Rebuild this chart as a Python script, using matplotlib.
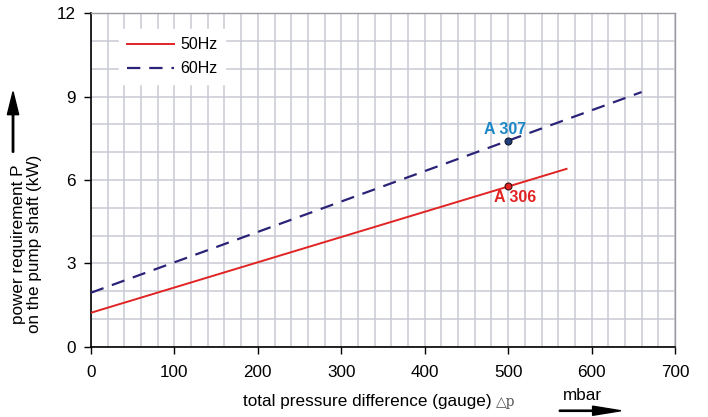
import numpy as np
import matplotlib.pyplot as plt
from matplotlib.patches import FancyArrow

plt.rcParams['font.family'] = ['Liberation Sans', 'DejaVu Sans']

# curve end points (pressure in mbar, power in kW)
p_50 = [0, 570]
P_50 = [1.23, 6.40]
p_60 = [0, 660]
P_60 = [1.95, 9.16]

# operating points
pts_p = [500, 500]
pts_P = [5.78, 7.41]
pts_name = ['A 306', 'A 307']

fig = plt.figure(figsize=(7.08, 4.17), dpi=100)
ax = fig.add_axes([0.1285, 0.1679, 0.8249, 0.8009])

red = '#e02424'
navy = '#2b2377'

ax.plot(p_50, P_50, color=red, lw=1.4, label='50Hz', zorder=3)
ax.plot(p_60, P_60, color=navy, lw=1.6, dashes=(6, 4), label='60Hz', zorder=3)

ax.plot(pts_p[0], pts_P[0], 'o', ms=5, mfc=red, mec='#3a1010', mew=0.8, zorder=4)
ax.plot(pts_p[1], pts_P[1], 'o', ms=5, mfc='#1f3f78', mec='#101830', mew=0.8, zorder=4)
ax.text(pts_p[0] + 8, pts_P[0] - 0.42, pts_name[0], color=red, fontsize=11.5,
        fontweight='bold', ha='center', va='center')
ax.text(pts_p[1] - 4, pts_P[1] + 0.42, pts_name[1], color='#1b86c6', fontsize=11.5,
        fontweight='bold', ha='center', va='center')

ax.set_xlim(0, 700)
ax.set_ylim(0, 12)
ax.set_xticks(np.arange(0, 701, 100))
ax.set_yticks(np.arange(0, 13, 3))
ax.set_xticks(np.arange(0, 701, 20), minor=True)
ax.set_yticks(np.arange(0, 13, 1), minor=True)
ax.grid(which='both', color='#c9c9d3', lw=1.1, zorder=0)
ax.tick_params(which='minor', length=0)
ax.tick_params(which='major', labelsize=12.3, length=5, width=1, color='black', pad=6)
ax.tick_params(axis='x', pad=8)

for s in ['top', 'right']:
    ax.spines[s].set_color('#9a9aa2')
    ax.spines[s].set_linewidth(1.0)
for s in ['left', 'bottom']:
    ax.spines[s].set_linewidth(1.2)

leg = ax.legend(loc='upper left', bbox_to_anchor=(0.035, 0.975), frameon=True,
                fontsize=11.5, handlelength=2.9, borderpad=0.5, labelspacing=0.55,
                handletextpad=0.4)
leg.get_frame().set_edgecolor('white')
leg.get_frame().set_facecolor('white')
leg.get_frame().set_alpha(1)
leg.get_frame().set_boxstyle('square', pad=0)

# axis labels with arrows
fig.text(0.037, 0.415, 'power requirement P\non the pump shaft (kW)', rotation=90,
         ha='center', va='center', fontsize=12.3, linespacing=1.1)
fig.add_artist(FancyArrow(
    0.0184, 0.635, 0, 0.145, width=0.002, head_width=0.016, head_length=0.055,
    length_includes_head=True, color='black', transform=fig.transFigure))

fig.text(0.343, 0.038, 'total pressure difference (gauge)', fontsize=12.3,
         ha='left', va='center')
fig.text(0.700, 0.036, '\u25b3p', fontsize=10, ha='left', va='center',
         color='#555555', family='DejaVu Serif')
fig.text(0.795, 0.052, 'mbar', fontsize=12.3, ha='left', va='center')
fig.add_artist(FancyArrow(
    0.79, 0.015, 0.087, 0, width=0.003, head_width=0.022, head_length=0.04,
    length_includes_head=True, color='black', transform=fig.transFigure))

fig.savefig('out.png', dpi=100)
